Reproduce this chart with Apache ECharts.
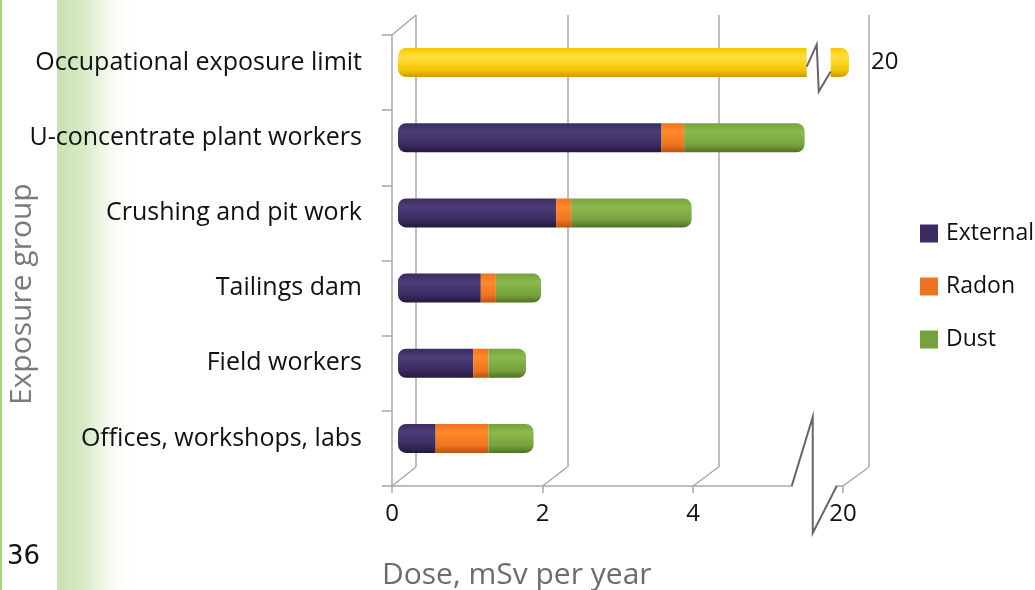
<!DOCTYPE html>
<html>
<head>
<meta charset="utf-8">
<title>Dose by exposure group</title>
<script src="https://cdn.jsdelivr.net/npm/echarts@6/dist/echarts.min.js"></script>
<style>
html, body { margin: 0; padding: 0; background: #fff; }
#main { width: 1035px; height: 590px; }
</style>
</head>
<body>
<div id="main"></div>
<script>
// exposure groups, top to bottom
var groups = ['Occupational exposure limit', 'U-concentrate plant workers', 'Crushing and pit work',
              'Tailings dam', 'Field workers', 'Offices, workshops, labs'];
// dose components, mSv per year
var external = ['-', 3.5, 2.1, 1.1, 1.0, 0.5];
var radon    = ['-', 0.3, 0.2, 0.2, 0.2, 0.7];
var dust     = ['-', 1.6, 1.6, 0.6, 0.5, 0.6];
var limit    = [20, '-', '-', '-', '-', '-'];
var doseTicks = [0, 2, 4, 20];
var doseBreak = { start: 5.45, end: 19.55, gap: '1.5%' };

var font = '"Open Sans", "Noto Sans", sans-serif';
var gridLine = '#a8a8a8';

// cylinder shading
function tube(light, mid, dark) {
    return new echarts.graphic.LinearGradient(0, 0, 0, 1, [
        { offset: 0, color: mid },
        { offset: 0.3, color: light },
        { offset: 0.75, color: mid },
        { offset: 1, color: dark }
    ]);
}

function doseAxis(idx, extra) {
    var ax = {
        type: 'value', gridIndex: idx, min: 0, max: 20, interval: 2,
        breaks: [doseBreak],
        breakArea: { show: false },
        axisLine: { show: false },
        axisTick: { show: false, customValues: doseTicks },
        axisLabel: { show: false, customValues: doseTicks },
        splitLine: { show: false }
    };
    for (var k in extra) ax[k] = extra[k];
    return ax;
}

var myChart = echarts.init(document.getElementById('main'));
myChart.setOption({
    animation: false,
    textStyle: { fontFamily: font },
    grid: [
        // front plane (axes)
        { left: 392, right: 192, top: 35, bottom: 104 },
        // bars
        { left: 398, right: 186, top: 25, bottom: 114 },
        // back plane (grid lines)
        { left: 416, right: 166, top: 15, bottom: 123 }
    ],
    legend: {
        orient: 'vertical', left: 915, top: 217, itemWidth: 18, itemHeight: 18, itemGap: 30,
        icon: 'rect',
        textStyle: { fontSize: 23, color: '#111', fontFamily: font, padding: [0, 0, 0, 3] },
        data: [
            { name: 'External', itemStyle: { color: '#3a2b60' } },
            { name: 'Radon', itemStyle: { color: '#ef7320' } },
            { name: 'Dust', itemStyle: { color: '#76a13e' } }
        ]
    },
    xAxis: [
        doseAxis(0, {
            axisLine: { show: true, lineStyle: { color: gridLine, width: 1.5 } },
            axisTick: { show: true, customValues: doseTicks, length: 7, lineStyle: { color: gridLine, width: 1.5 } },
            axisLabel: { show: true, customValues: doseTicks, margin: 16, fontSize: 24, color: '#111', fontFamily: font }
        }),
        doseAxis(1, {}),
        doseAxis(2, {
            splitLine: { show: true, lineStyle: { color: gridLine, width: 1.5 } }
        })
    ],
    yAxis: [
        {
            type: 'category', gridIndex: 0, inverse: true, data: groups,
            axisLine: { show: true, lineStyle: { color: gridLine, width: 1.5 } },
            axisTick: { show: true, length: 10, lineStyle: { color: gridLine, width: 1.5 } },
            axisLabel: { show: false }
        },
        {
            type: 'category', gridIndex: 1, inverse: true, data: groups,
            axisLine: { show: false }, axisTick: { show: false },
            axisLabel: { margin: 36, fontSize: 25, color: '#111', fontFamily: font }
        },
        {
            type: 'category', gridIndex: 2, inverse: true, data: groups,
            axisLine: { show: false }, axisTick: { show: false }, axisLabel: { show: false }
        }
    ],
    series: [
        {
            name: 'External', type: 'bar', stack: 'dose', xAxisIndex: 1, yAxisIndex: 1,
            barWidth: 29, data: external,
            itemStyle: { color: tube('#4d3d78', '#3a2b60', '#22183c'), borderRadius: [8, 0, 0, 8] }
        },
        {
            name: 'Radon', type: 'bar', stack: 'dose', xAxisIndex: 1, yAxisIndex: 1,
            barWidth: 29, data: radon,
            itemStyle: { color: tube('#ff8a2a', '#ef7320', '#b8530e') }
        },
        {
            name: 'Dust', type: 'bar', stack: 'dose', xAxisIndex: 1, yAxisIndex: 1,
            barWidth: 29, data: dust,
            itemStyle: { color: tube('#8cba4c', '#76a13e', '#4f7124'), borderRadius: [0, 8, 8, 0] }
        },
        {
            name: 'Limit', type: 'bar', stack: 'dose', xAxisIndex: 1, yAxisIndex: 1,
            barWidth: 29, data: limit,
            itemStyle: { color: tube('#ffe040', '#f7c600', '#c99a00'), borderRadius: 8 },
            label: { show: true, position: 'right', distance: 22, fontSize: 24, color: '#111', fontFamily: font }
        }
    ],
    graphic: [
        // green page strip
        {
            type: 'rect', left: 57, top: 0, z: -10, silent: true,
            shape: { width: 80, height: 590 },
            style: {
                fill: new echarts.graphic.LinearGradient(0, 0, 1, 0, [
                    { offset: 0, color: '#c9e2b2' },
                    { offset: 0.35, color: '#d6ebc6' },
                    { offset: 1, color: 'rgba(255,255,255,0)' }
                ])
            }
        },
        { type: 'rect', left: 0, top: 0, z: -10, silent: true, shape: { width: 2, height: 590 }, style: { fill: '#a8d27c' } },
        {
            type: 'text', x: 7, y: 557, silent: true,
            style: { text: '36', font: '26px "DejaVu Sans", sans-serif', fill: '#111', textVerticalAlign: 'middle' }
        },
        {
            type: 'text', x: 382, y: 575, silent: true,
            style: { text: 'Dose, mSv per year', font: '30px ' + font, fill: '#6d6d6d', textVerticalAlign: 'middle' }
        },
        {
            type: 'text', x: 7, y: 405, rotation: Math.PI / 2, silent: true,
            style: { text: 'Exposure group', font: '30px ' + font, fill: '#7a7a7a', textVerticalAlign: 'top' }
        }
    ]
});

// 3D floor connectors between the front axis and the back grid, plus break marks
var stroke = { stroke: gridLine, lineWidth: 1.5 };
var extra = [];
var frontBottom = 486, backBottom = 467;
doseTicks.forEach(function (v) {
    var xf = myChart.convertToPixel({ xAxisIndex: 0 }, v);
    var xb = myChart.convertToPixel({ xAxisIndex: 2 }, v);
    extra.push({ type: 'line', silent: true, shape: { x1: xf, y1: frontBottom, x2: xb, y2: backBottom }, style: stroke });
});
var x0f = myChart.convertToPixel({ xAxisIndex: 0 }, 0);
var x0b = myChart.convertToPixel({ xAxisIndex: 2 }, 0);
extra.push({ type: 'line', silent: true, shape: { x1: x0f, y1: 35, x2: x0b, y2: 15 }, style: stroke });

// zigzag on the front axis
var bs = myChart.convertToPixel({ xAxisIndex: 0 }, doseBreak.start);
var be = myChart.convertToPixel({ xAxisIndex: 0 }, doseBreak.end);
var bc = (bs + be) / 2;
extra.push({ type: 'rect', silent: true, zlevel: 1, shape: { x: bc - 13, y: frontBottom - 3, width: 43, height: 6 }, style: { fill: '#fff' } });
extra.push({ type: 'polyline', silent: true, zlevel: 1,
             shape: { points: [[bc - 14, frontBottom], [bc + 7, frontBottom - 69], [bc + 7, frontBottom + 47], [bc + 31, frontBottom]] },
             style: { stroke: '#666', lineWidth: 2, fill: null } });

// zigzag across the limit bar
var lb0 = myChart.convertToPixel({ xAxisIndex: 1 }, doseBreak.start);
var lb1 = myChart.convertToPixel({ xAxisIndex: 1 }, doseBreak.end);
var lc = (lb0 + lb1) / 2;
var ly = myChart.convertToPixel({ yAxisIndex: 1 }, groups[0]);
var gx0 = lc - 5, gx1 = lc + 19;
extra.push({ type: 'rect', silent: true, zlevel: 1, shape: { x: gx0, y: ly - 16, width: gx1 - gx0, height: 32 }, style: { fill: '#fff' } });
extra.push({ type: 'polyline', silent: true, zlevel: 1,
             shape: { points: [[gx0, ly + 4], [gx0 + 10, ly - 18], [gx0 + 12, ly + 29], [gx1, ly + 9]] },
             style: { stroke: '#666', lineWidth: 2, fill: null } });

var opt = myChart.getOption();
myChart.setOption({ graphic: opt.graphic[0].elements.concat(extra) });
</script>
</body>
</html>
